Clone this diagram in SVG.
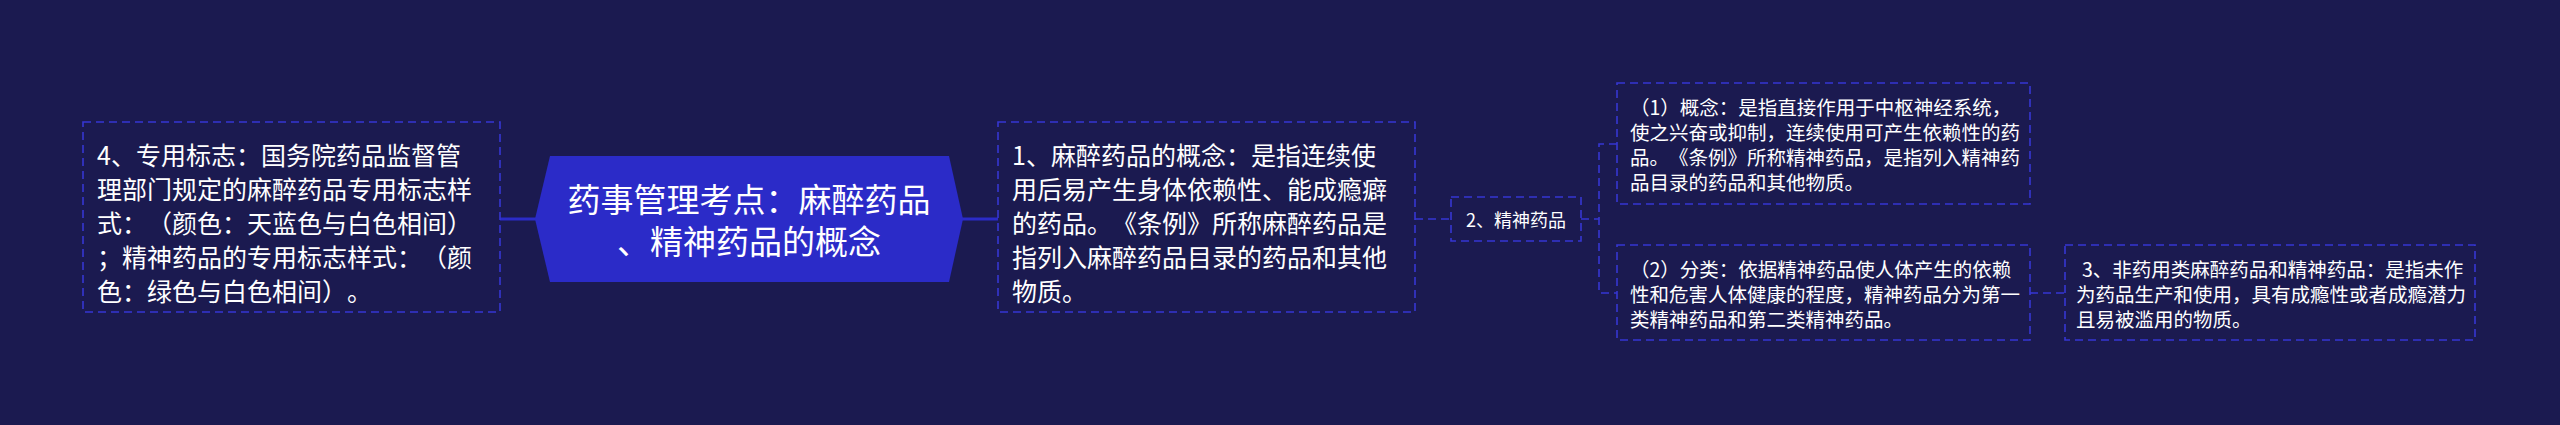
<svg xmlns="http://www.w3.org/2000/svg" width="2560" height="425" viewBox="0 0 2560 425">
<style>
.bg{fill:#1b1a50}
.box{fill:none;stroke:#3636d2;stroke-width:1.6;stroke-dasharray:8 5}
.dl{fill:none;stroke:#3636d2;stroke-width:1.6;stroke-dasharray:8 5}
.sl{fill:none;stroke:#2b2bc8;stroke-width:3}
text{font-family:"Noto Sans CJK SC","Noto Sans",sans-serif;fill:#ffffff;dominant-baseline:central;text-spacing-trim:space-all;font-kerning:none}
.t25{font-size:25px}
.t19{font-size:19.5px}
.t18{font-size:18px}
.t33{font-size:33px;text-anchor:middle}
</style>
<rect class="bg" x="0" y="0" width="2560" height="425"/>
<g id="connectors">
<line class="sl" x1="500" y1="219" x2="536" y2="219"/>
<line class="sl" x1="962" y1="219" x2="998" y2="219"/>
<line class="dl" x1="1415" y1="219" x2="1451" y2="219"/>
<line class="dl" x1="1581" y1="219" x2="1599" y2="219"/>
<path class="dl" d="M1617 144 H1599 V293 H1617"/>
<line class="dl" x1="2030" y1="293" x2="2065" y2="293"/>
</g>
<g id="center">
<polygon points="535,219 550,156 949,156 963,219 949,282 550,282" fill="#2b2bc8"/>
<text class="t33"><tspan x="749" y="198">药事管理考点：麻醉药品</tspan><tspan x="749" y="240">、精神药品的概念</tspan></text>
</g>
<g id="node4">
<rect class="box" x="83" y="122" width="417" height="190"/>
<text class="t25" x="97" y="154">4、专用标志：国务院药品监督管</text>
<text class="t25" x="97" y="188">理部门规定的麻醉药品专用标志样</text>
<text class="t25" x="97" y="222">式：（颜色：天蓝色与白色相间）</text>
<text class="t25" x="97" y="256">；精神药品的专用标志样式：（颜</text>
<text class="t25" x="97" y="290">色：绿色与白色相间）。</text>
</g>
<g id="node1">
<rect class="box" x="998" y="122" width="417" height="190"/>
<text class="t25" x="1012" y="154">1、麻醉药品的概念：是指连续使</text>
<text class="t25" x="1012" y="188">用后易产生身体依赖性、能成瘾癖</text>
<text class="t25" x="1012" y="222">的药品。《条例》所称麻醉药品是</text>
<text class="t25" x="1012" y="256">指列入麻醉药品目录的药品和其他</text>
<text class="t25" x="1012" y="290">物质。</text>
</g>
<g id="node2">
<rect class="box" x="1451" y="197" width="130" height="44"/>
<text class="t18" x="1516" y="219" text-anchor="middle">2、精神药品</text>
</g>
<g id="node2-1">
<rect class="box" x="1617" y="83" width="413" height="121"/>
<text class="t19" x="1630" y="106">（1）概念：是指直接作用于中枢神经系统，</text>
<text class="t19" x="1630" y="131">使之兴奋或抑制，连续使用可产生依赖性的药</text>
<text class="t19" x="1630" y="156">品。《条例》所称精神药品，是指列入精神药</text>
<text class="t19" x="1630" y="181">品目录的药品和其他物质。</text>
</g>
<g id="node2-2">
<rect class="box" x="1617" y="245" width="413" height="95"/>
<text class="t19" x="1630" y="268">（2）分类：依据精神药品使人体产生的依赖</text>
<text class="t19" x="1630" y="293">性和危害人体健康的程度，精神药品分为第一</text>
<text class="t19" x="1630" y="318">类精神药品和第二类精神药品。</text>
</g>
<g id="node3">
<rect class="box" x="2065" y="245" width="410" height="95"/>
<text class="t19" x="2082" y="268">3、非药用类麻醉药品和精神药品：是指未作</text>
<text class="t19" x="2076" y="293">为药品生产和使用，具有成瘾性或者成瘾潜力</text>
<text class="t19" x="2076" y="318">且易被滥用的物质。</text>
</g>
</svg>
